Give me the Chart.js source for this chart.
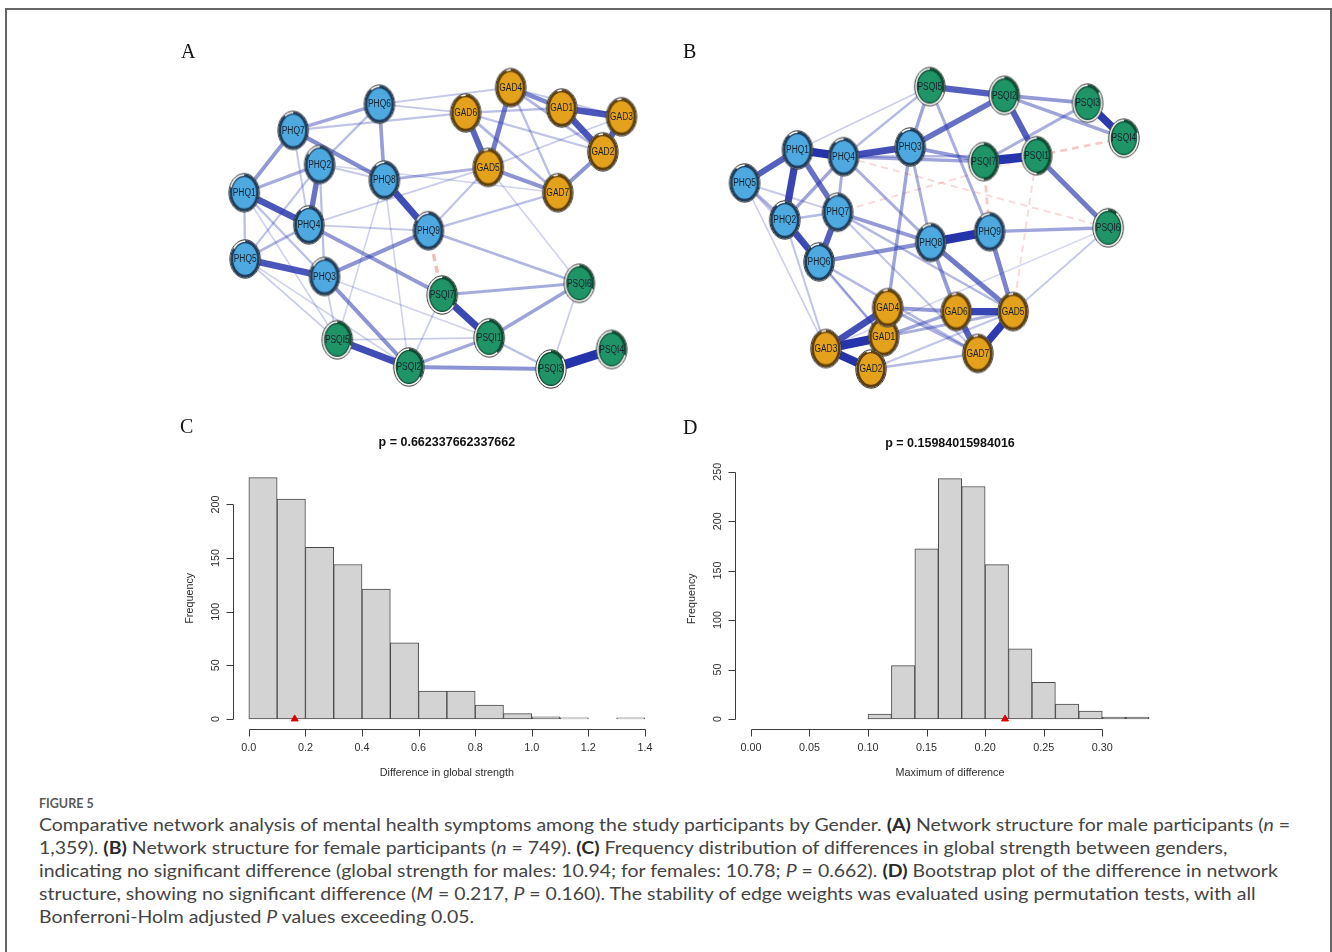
<!DOCTYPE html>
<html>
<head>
<meta charset="utf-8">
<script src="https://cdn.jsdelivr.net/npm/chart.js@4"></script>
<style>
body { margin:0; background:#fff; width:1332px; height:952px; position:relative; overflow:hidden; font-family:"Liberation Sans", Arial, sans-serif; }
#frame { position:absolute; left:5px; top:8px; width:1327px; height:1000px; border:2px solid #666; box-sizing:border-box; }
canvas { position:absolute; }
.plabel { position:absolute; font-family:"Liberation Serif", "DejaVu Serif", serif; font-size:20px; line-height:20px; color:#111; }
#figlabel { position:absolute; left:39px; top:796px; font-family:Lato, "Noto Sans", sans-serif; font-size:12.5px; font-weight:700; color:#5a5a5a; }
#cap { position:absolute; left:39px; top:814px; font-family:Lato, "Noto Sans", sans-serif; font-size:16.5px; line-height:23px; color:#444; }
#cap .ln { white-space:nowrap; width:max-content; transform-origin:0 50%; }
#cap b { color:#2a2a2a; }
</style>
</head>
<body>
<div id="frame"></div>

<canvas id="netA" width="500" height="380" style="left:150px;top:30px"></canvas>
<canvas id="netB" width="500" height="380" style="left:670px;top:30px"></canvas>
<canvas id="histC" width="500" height="370" style="left:170px;top:415px"></canvas>
<canvas id="histD" width="500" height="370" style="left:670px;top:415px"></canvas>

<div class="plabel" style="left:181px;top:41px">A</div>
<div class="plabel" style="left:683px;top:41px">B</div>
<div class="plabel" style="left:180px;top:416px">C</div>
<div class="plabel" style="left:683px;top:417px">D</div>

<div id="figlabel">FIGURE 5</div>
<div id="cap">
<div class="ln" id="l1">Comparative network analysis of mental health symptoms among the study participants by Gender. <b>(A)</b> Network structure for male participants (<i>n</i> =</div>
<div class="ln">1,359). <b>(B)</b> Network structure for female participants (<i>n</i> = 749). <b>(C)</b> Frequency distribution of differences in global strength between genders,</div>
<div class="ln">indicating no significant difference (global strength for males: 10.94; for females: 10.78; <i>P</i> = 0.662). <b>(D)</b> Bootstrap plot of the difference in network</div>
<div class="ln">structure, showing no significant difference (<i>M</i> = 0.217, <i>P</i> = 0.160). The stability of edge weights was evaluated using permutation tests, with all</div>
<div class="ln">Bonferroni-Holm adjusted <i>P</i> values exceeding 0.05.</div>
</div>

<script>
// ---- data ----
const nodeNames = ['PHQ1','PHQ2','PHQ3','PHQ4','PHQ5','PHQ6','PHQ7','PHQ8','PHQ9',
                   'GAD1','GAD2','GAD3','GAD4','GAD5','GAD6','GAD7',
                   'PSQI1','PSQI2','PSQI3','PSQI4','PSQI5','PSQI6','PSQI7'];

// layout positions of the nodes (panel A = males, panel B = females)
const nodeAx = [91,168,173,157,92,229,141,234,279, 415,457,476,363,340,317,411, 341,259,404,466,186,433,293];
const nodeAy = [162,133,248,195,230,71,98,149,201, 75,120,84,54,136,80,162, 311,341,343,323,313,255,267];
const nodeBx = [125,112,240,172,71,147,166,261,321, 213,200,154,217,345,287,309, 369,336,421,458,260,442,315];
const nodeBy = [118,190,115,125,152,233,182,213,202, 310,343,322,280,284,284,327, 124,62,70,106,53,198,130];

// predictability (pie ring)
const predA = [0.8,0.85,0.85,0.9,0.85,0.9,0.9,0.9,0.85, 0.95,0.95,0.95,0.95,0.95,0.95,0.95, 0.4,0.35,0.15,0.3,0.3,0.3,0.35];
const predB = [0.9,0.9,0.9,0.9,0.9,0.9,0.9,0.9,0.9, 0.95,0.95,0.95,0.95,0.95,0.95,0.95, 0.5,0.3,0.15,0.2,0.3,0.1,0.5];

// edges [from, to, partial correlation]
const edgesA = [
  ['PSQI3','PSQI4',0.45], ['PHQ8','PHQ9',0.32], ['PSQI7','PSQI1',0.33], ['PSQI5','PSQI2',0.32],
  ['PHQ1','PHQ4',0.30], ['PHQ5','PHQ3',0.30], ['GAD1','GAD3',0.30], ['GAD1','GAD2',0.30],
  ['GAD2','GAD3',0.28], ['GAD6','GAD5',0.27], ['PHQ2','PHQ4',0.24], ['GAD4','GAD5',0.22],
  ['GAD4','GAD1',0.20], ['PHQ7','PHQ8',0.19], ['PSQI2','PSQI3',0.17], ['PHQ3','PSQI2',0.17],
  ['PHQ3','PHQ9',0.17], ['PHQ4','PSQI7',0.16], ['GAD2','GAD7',0.17], ['GAD5','GAD7',0.17],
  ['PHQ7','PHQ1',0.16], ['PHQ6','PHQ8',0.15], ['PHQ7','PHQ6',0.13], ['PSQI1','PSQI6',0.14],
  ['PSQI2','PSQI1',0.13], ['PSQI7','PSQI6',0.12], ['PHQ1','PHQ2',0.12], ['PHQ9','PSQI7',-0.14],
  ['PHQ8','GAD5',0.11], ['PHQ9','PSQI6',0.10], ['PHQ4','PHQ5',0.10], ['GAD6','GAD7',0.10],
  ['GAD4','GAD2',0.10], ['PHQ1','PHQ5',0.08], ['PHQ2','PHQ3',0.08], ['PHQ1','PHQ3',0.08],
  ['PHQ2','PHQ6',0.08], ['PHQ5','PHQ2',0.07], ['GAD6','GAD1',0.08], ['GAD4','GAD7',0.08],
  ['GAD6','GAD2',0.07], ['PHQ7','GAD6',0.07], ['PHQ9','GAD7',0.08], ['PHQ9','GAD5',0.07],
  ['PSQI1','PSQI3',0.08], ['PHQ6','GAD4',0.06], ['PHQ6','GAD6',0.06], ['PHQ2','PHQ8',0.06],
  ['PHQ4','PHQ9',0.06], ['GAD3','GAD5',0.05], ['PSQI5','PSQI1',0.05], ['PHQ5','PSQI5',0.05],
  ['PSQI7','PSQI2',0.05], ['PSQI6','PSQI3',0.05], ['GAD5','PSQI6',0.04], ['PHQ1','PSQI5',0.04],
  ['PHQ3','PSQI5',0.05], ['PHQ8','PSQI5',0.04], ['PHQ4','GAD5',0.05], ['PHQ2','GAD7',0.04],
  ['PHQ7','PHQ4',0.06], ['PHQ3','PSQI1',0.04], ['PHQ5','PSQI2',0.04], ['GAD4','GAD3',0.06],
  ['PHQ8','PSQI2',0.04]
];
const edgesB = [
  ['PHQ8','PHQ9',0.38], ['PSQI7','PSQI1',0.38], ['GAD3','GAD1',0.38], ['PHQ1','PHQ4',0.35],
  ['GAD3','GAD2',0.35], ['PSQI3','PSQI4',0.32], ['GAD5','GAD7',0.32], ['PHQ1','PHQ2',0.30],
  ['GAD6','GAD5',0.30], ['PHQ4','PHQ3',0.28], ['PHQ2','PHQ6',0.28], ['GAD3','GAD4',0.28],
  ['PHQ1','PHQ5',0.25], ['PHQ7','PHQ6',0.25], ['PSQI5','PSQI2',0.25], ['PSQI2','PSQI1',0.25],
  ['GAD6','GAD7',0.25], ['PHQ1','PHQ7',0.22], ['PHQ3','PSQI2',0.22], ['PSQI1','PSQI6',0.20],
  ['PHQ8','GAD5',0.20], ['PHQ9','GAD5',0.18], ['PHQ6','PHQ8',0.16], ['PHQ3','PSQI7',0.14],
  ['PSQI2','PSQI3',0.14], ['PHQ7','PHQ8',0.14], ['GAD4','GAD6',0.14], ['PHQ8','GAD6',0.14],
  ['PHQ4','PSQI7',0.12], ['PHQ9','PSQI6',0.12], ['PSQI2','PSQI4',0.12], ['PSQI5','PHQ3',0.12],
  ['PHQ3','GAD4',0.12], ['GAD1','GAD6',0.12], ['PHQ4','PHQ2',0.12], ['PSQI7','PSQI3',0.10],
  ['PSQI5','PHQ9',0.10], ['PHQ3','PHQ8',0.10], ['GAD1','GAD5',0.10], ['GAD4','GAD7',0.10],
  ['PHQ4','PHQ7',0.10], ['PHQ5','PHQ2',0.10], ['PHQ4','PHQ8',0.10], ['PSQI1','PSQI4',-0.09],
  ['PSQI7','PHQ9',-0.09], ['PSQI5','PHQ4',0.08], ['GAD2','GAD7',0.08], ['PHQ6','GAD1',0.08],
  ['PHQ6','GAD7',0.08], ['PHQ7','GAD5',0.08], ['PHQ4','PSQI1',0.08], ['PHQ2','GAD3',0.06],
  ['GAD2','GAD5',0.06], ['PSQI1','PHQ7',-0.05], ['PSQI6','PHQ4',-0.05], ['GAD5','PSQI1',-0.05],
  ['GAD5','PSQI6',0.05], ['PSQI5','PHQ1',0.04], ['PHQ5','GAD3',0.04], ['PHQ5','PHQ6',0.06],
  ['PHQ2','PHQ7',0.08], ['PHQ5','PHQ7',0.05], ['PHQ2','GAD1',0.05], ['PHQ7','GAD7',0.06],
  ['PSQI6','GAD3',0.03]
];

// histogram C: difference in global strength
const binsC = [0.0,0.1,0.2,0.3,0.4,0.5,0.6,0.7,0.8,0.9,1.0,1.1,1.2,1.3];
const countsC = [225,205,160,144,121,71,26,26,13,5,2,1,0,1];
const observedC = 0.162;
const xTicksC = ['0.0','0.2','0.4','0.6','0.8','1.0','1.2','1.4'];
const yTicksC = ['0','50','100','150','200'];

// histogram D: maximum of difference
const binsD = [0.10,0.12,0.14,0.16,0.18,0.20,0.22,0.24,0.26,0.28,0.30,0.32];
const countsD = [5,54,172,243,235,156,71,37,15,8,2,2];
const observedD = 0.217;
const xTicksD = ['0.00','0.05','0.10','0.15','0.20','0.25','0.30'];
const yTicksD = ['0','50','100','150','200','250'];

// ---- networks ----
const groupStyle = {
  PHQ:  { fill: '#4da9df', dark: '#1f3c5a' },
  GAD:  { fill: '#e4a11b', dark: '#5c3f0c' },
  PSQI: { fill: '#1f9467', dark: '#0f4a32' }
};
let groupOf = function(name) { return name.replace(/[0-9]/g, ''); };

let nodeImage = function(fill, dark, frac) {
  let c = document.createElement('canvas');
  c.width = 34; c.height = 42;
  let g = c.getContext('2d');
  let cx = 17, cy = 21;
  g.beginPath(); g.ellipse(cx, cy, 15.2, 19.2, 0, 0, 2 * Math.PI);
  g.fillStyle = '#fff'; g.fill();
  g.lineWidth = 1; g.strokeStyle = '#333'; g.stroke();
  g.beginPath(); g.moveTo(cx, cy);
  g.ellipse(cx, cy, 14.7, 18.7, 0, -Math.PI / 2, -Math.PI / 2 + 2 * Math.PI * frac);
  g.closePath(); g.fillStyle = dark; g.fill();
  g.beginPath(); g.ellipse(cx, cy, 12.6, 16.4, 0, 0, 2 * Math.PI);
  g.fillStyle = fill; g.fill();
  g.lineWidth = 1.2; g.strokeStyle = dark; g.stroke();
  return c;
};

const nodeLabels = {
  id: 'nodeLabels',
  afterDatasetsDraw(chart) {
    let ctx = chart.ctx;
    chart.data.datasets.forEach((ds, i) => {
      if (!ds.isNodes) return;
      chart.getDatasetMeta(i).data.forEach((el, j) => {
        ctx.save();
        ctx.translate(el.x, el.y + 0.5);
        ctx.scale(0.84, 1);
        ctx.font = '10px "Liberation Sans", Arial, sans-serif';
        ctx.fillStyle = '#17212c';
        ctx.textAlign = 'center';
        ctx.textBaseline = 'middle';
        ctx.fillText(nodeNames[j], 0, 0);
        ctx.restore();
      });
    });
  }
};

let make_network = function(canvas_id, xs, ys, preds, edges, max_w) {
  let pos = {};
  nodeNames.forEach((n, i) => { pos[n] = { x: xs[i], y: ys[i] }; });

  // weaker edges underneath stronger ones
  let sorted = edges.slice().sort((a, b) => Math.abs(b[2]) - Math.abs(a[2]));
  let datasets = sorted.map((e, k) => {
    let r = Math.min(1, Math.abs(e[2]) / max_w);
    let alpha = Math.min(1, 0.13 + 1.05 * r);
    let neg = e[2] < 0;
    return {
      data: [pos[e[0]], pos[e[1]]],
      showLine: true,
      borderColor: neg ? `rgba(228, 110, 110, ${alpha})` : `rgba(38, 52, 172, ${alpha})`,
      borderWidth: 0.8 + 8.6 * r,
      borderDash: neg ? [7, 5] : [],
      pointRadius: 0,
      clip: false,
      order: 1 + k
    };
  });

  datasets.push({
    isNodes: true,
    data: nodeNames.map(n => pos[n]),
    pointStyle: nodeNames.map((n, i) => {
      let s = groupStyle[groupOf(n)];
      return nodeImage(s.fill, s.dark, preds[i]);
    }),
    clip: false,
    order: 0
  });

  new Chart(document.getElementById(canvas_id), {
    type: 'scatter',
    data: { datasets: datasets },
    options: {
      responsive: false,
      animation: false,
      events: [],
      layout: { padding: 0 },
      scales: {
        x: { type: 'linear', min: 0, max: 500, display: false },
        y: { type: 'linear', min: 0, max: 380, reverse: true, display: false }
      },
      plugins: { legend: { display: false }, tooltip: { enabled: false } }
    },
    plugins: [nodeLabels]
  });
};

// ---- histograms (R base graphics look) ----
const rAxes = {
  id: 'rAxes',
  afterDraw(chart, args, o) {
    let ctx = chart.ctx, xs = chart.scales.x, ys = chart.scales.y, a = chart.chartArea;
    let xv = o.xTicks.map(parseFloat), yv = o.yTicks.map(parseFloat);
    ctx.save();
    ctx.strokeStyle = '#3a3a3a';
    ctx.fillStyle = '#2e2e2e';
    ctx.lineWidth = 1;

    // x axis
    let yb = Math.round(a.bottom) + 0.5;
    ctx.beginPath();
    ctx.moveTo(Math.round(xs.getPixelForValue(xv[0])) + 0.5, yb);
    ctx.lineTo(Math.round(xs.getPixelForValue(xv[xv.length - 1])) + 0.5, yb);
    xv.forEach(v => {
      let p = Math.round(xs.getPixelForValue(v)) + 0.5;
      ctx.moveTo(p, yb); ctx.lineTo(p, yb + 7);
    });
    // y axis
    let xl = Math.round(a.left) + 0.5;
    ctx.moveTo(xl, Math.round(ys.getPixelForValue(yv[0])) + 0.5);
    ctx.lineTo(xl, Math.round(ys.getPixelForValue(yv[yv.length - 1])) + 0.5);
    yv.forEach(v => {
      let p = Math.round(ys.getPixelForValue(v)) + 0.5;
      ctx.moveTo(xl, p); ctx.lineTo(xl - 7, p);
    });
    ctx.stroke();

    ctx.font = '10.8px "Liberation Sans", Arial, sans-serif';
    ctx.textAlign = 'center';
    ctx.textBaseline = 'middle';
    o.xTicks.forEach((t, i) => ctx.fillText(t, xs.getPixelForValue(xv[i]), a.bottom + 19.5));
    o.yTicks.forEach((t, i) => {
      ctx.save();
      ctx.translate(a.left - 17, ys.getPixelForValue(yv[i]));
      ctx.rotate(-Math.PI / 2);
      ctx.fillText(t, 0, 0);
      ctx.restore();
    });

    // axis titles
    let cx = (a.left + a.right) / 2;
    ctx.fillText(o.xTitle, cx, a.bottom + 44.5);
    ctx.save();
    ctx.translate(a.left - 42.5, (a.top + a.bottom) / 2);
    ctx.rotate(-Math.PI / 2);
    ctx.fillText('Frequency', 0, 0);
    ctx.restore();

    ctx.font = 'bold 12.5px "Liberation Sans", Arial, sans-serif';
    ctx.fillStyle = '#111';
    ctx.fillText(o.title, cx, a.top - 25.5);
    ctx.restore();
  }
};

let make_histogram = function(canvas_id, bins, counts, bin_width, observed,
                              x_range, y_range, padding, x_ticks, y_ticks, title, x_title) {
  new Chart(document.getElementById(canvas_id), {
    type: 'bar',
    data: {
      datasets: [{
        data: bins.map((b, i) => ({ x: b + bin_width / 2, y: counts[i] })),
        backgroundColor: '#d3d3d3',
        borderColor: '#4a4a4a',
        borderWidth: 1,
        borderSkipped: false,
        barPercentage: 1,
        categoryPercentage: 1,
        order: 1
      }, {
        type: 'scatter',
        data: [{ x: observed, y: 0 }],
        pointStyle: 'triangle',
        pointRadius: 4,
        backgroundColor: '#e00000',
        borderColor: '#e00000',
        borderWidth: 1,
        clip: false,
        order: 0
      }]
    },
    options: {
      responsive: false,
      animation: false,
      events: [],
      layout: { padding: padding },
      scales: {
        x: { type: 'linear', min: x_range[0], max: x_range[1], offset: false, display: false },
        y: { type: 'linear', min: y_range[0], max: y_range[1], display: false }
      },
      plugins: {
        legend: { display: false },
        tooltip: { enabled: false },
        rAxes: { xTicks: x_ticks, yTicks: y_ticks, title: title, xTitle: x_title }
      }
    },
    plugins: [rAxes]
  });
};

make_network('netA', nodeAx, nodeAy, predA, edgesA, 0.45);
make_network('netB', nodeBx, nodeBy, predB, edgesB, 0.40);

make_histogram('histC', binsC, countsC, 0.1, observedC,
  [-0.056, 1.456], [-9, 234], { left: 63, right: 9.2, top: 53, bottom: 56.4 },
  xTicksC, yTicksC, 'p = 0.662337662337662', 'Difference in global strength');

make_histogram('histD', binsD, countsD, 0.02, observedD,
  [-0.0136, 0.3536], [-9.72, 252.72], { left: 65, right: 5, top: 54, bottom: 56.4 },
  xTicksD, yTicksD, 'p = 0.15984015984016', 'Maximum of difference');

// squeeze the caption lines horizontally to the reference line length
let l1 = document.getElementById('l1');
let sx = 1251 / l1.getBoundingClientRect().width;
document.querySelectorAll('#cap .ln').forEach(el => { el.style.transform = `scaleX(${sx.toFixed(4)})`; });
</script>
</body>
</html>
